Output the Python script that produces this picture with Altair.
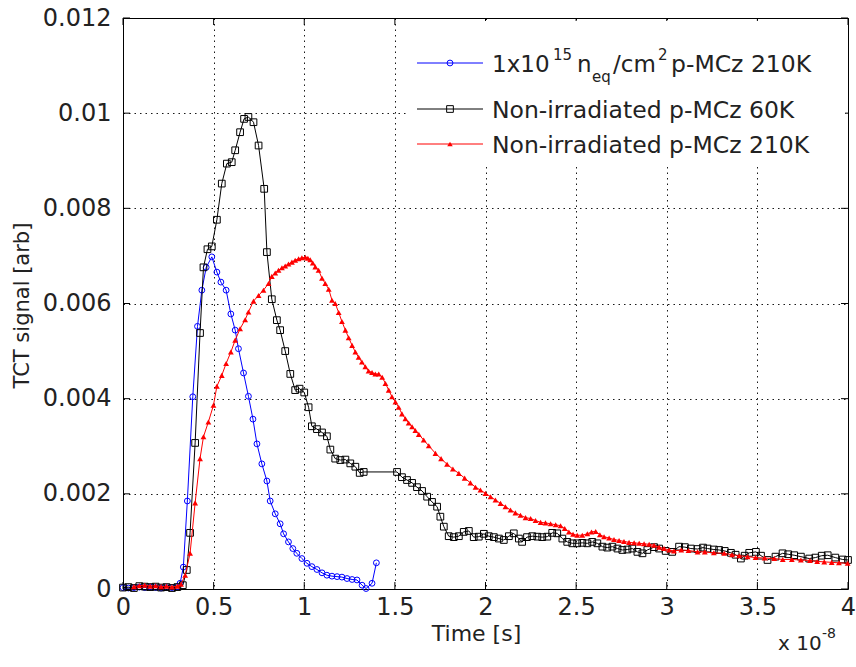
import altair as alt
import pandas as pd

# ---------------- data (time in units of 1e-8 s, signal in arb) ----------------
blue_t = [0.00, 0.03, 0.06, 0.09, 0.12, 0.15, 0.18, 0.21, 0.24, 0.27, 0.30, 0.315,
          0.333, 0.355, 0.385, 0.411, 0.435, 0.459, 0.49, 0.518, 0.54, 0.569, 0.595,
          0.619, 0.637, 0.665, 0.692, 0.717, 0.739, 0.766, 0.794, 0.812, 0.840, 0.867,
          0.886, 0.913, 0.937, 0.959, 0.987, 1.015, 1.042, 1.070, 1.098, 1.125, 1.153,
          1.181, 1.208, 1.236, 1.264, 1.291, 1.319, 1.341, 1.374, 1.398]
blue_v = [0.00003, 0.00002, 0.00003, 0.00004, 0.00003, 0.00004, 0.00003, 0.00002, 0.00003,
          0.00003, 0.00005, 0.00012, 0.00046, 0.00185, 0.00404, 0.00552, 0.00628, 0.00676,
          0.00698, 0.00666, 0.00645, 0.00628, 0.00578, 0.00544, 0.00505, 0.00454, 0.00405,
          0.00357, 0.00305, 0.00263, 0.00227, 0.00185, 0.00158, 0.00137, 0.00116, 0.00099,
          0.00085, 0.00075, 0.00064, 0.00054, 0.00047, 0.00041, 0.00034, 0.00029, 0.00027,
          0.00026, 0.00025, 0.00022, 0.00020, 0.00019, 0.00008, 0.00001, 0.00012, 0.00055]

black_t = [0.00, 0.03, 0.06, 0.09, 0.12, 0.15, 0.18, 0.21, 0.24, 0.27, 0.30, 0.33, 0.352,
           0.370, 0.398, 0.425, 0.444, 0.466, 0.49, 0.518, 0.545, 0.573, 0.600, 0.619,
           0.646, 0.668, 0.692, 0.720, 0.748, 0.779, 0.794, 0.821, 0.849, 0.867, 0.895,
           0.923, 0.950, 0.974, 1.000, 1.024, 1.042, 1.070, 1.098, 1.125, 1.144, 1.171,
           1.199, 1.227, 1.254, 1.282, 1.306, 1.328, 1.512, 1.539, 1.567, 1.595, 1.622,
           1.650, 1.678, 1.705, 1.733, 1.751, 1.770, 1.797, 1.825, 1.853, 1.880, 1.908,
           1.935, 1.963, 1.991, 2.018, 2.046, 2.074, 2.101, 2.129, 2.156, 2.184, 2.202,
           2.229, 2.258, 2.286, 2.313, 2.341, 2.368, 2.396, 2.424, 2.451, 2.479, 2.506,
           2.534, 2.562, 2.589, 2.617, 2.645, 2.672, 2.700, 2.728, 2.755, 2.783, 2.810,
           2.838, 2.866, 2.893, 2.930, 2.958, 2.994, 3.030, 3.068, 3.100, 3.133, 3.170,
           3.200, 3.225, 3.260, 3.289, 3.320, 3.354, 3.380, 3.409, 3.430, 3.455, 3.492,
           3.520, 3.556, 3.600, 3.639, 3.670, 3.703, 3.740, 3.786, 3.820, 3.855, 3.888,
           3.930, 3.971, 4.000]
black_v = [0.00003, 0.00004, 0.00002, 0.00006, 0.00005, 0.00004, 0.00005, 0.00003, 0.00004,
           0.00002, 0.00004, 0.00008, 0.00040, 0.00118, 0.00307, 0.00538, 0.00676, 0.00714,
           0.00720, 0.00776, 0.00852, 0.00894, 0.00897, 0.00922, 0.00960, 0.00988, 0.00992,
           0.00981, 0.00932, 0.00841, 0.00708, 0.00609, 0.00565, 0.00544, 0.00500, 0.00452,
           0.00418, 0.00421, 0.00413, 0.00382, 0.00342, 0.00336, 0.00329, 0.00321, 0.00293,
           0.00274, 0.00271, 0.00272, 0.00264, 0.00257, 0.00244, 0.00246, 0.00246, 0.00235,
           0.00229, 0.00223, 0.00214, 0.00206, 0.00194, 0.00183, 0.00173, 0.00152, 0.00131,
           0.00111, 0.00109, 0.00111, 0.00120, 0.00122, 0.00109, 0.00110, 0.00116, 0.00111,
           0.00109, 0.00106, 0.00103, 0.00111, 0.00117, 0.00106, 0.00099, 0.00109, 0.00111,
           0.00110, 0.00109, 0.00110, 0.00118, 0.00117, 0.00106, 0.00099, 0.00096, 0.00096,
           0.00097, 0.00096, 0.00099, 0.00096, 0.00089, 0.00087, 0.00089, 0.00085, 0.00082,
           0.00083, 0.00085, 0.00078, 0.00075, 0.00082, 0.00088, 0.00085, 0.00080, 0.00078,
           0.00089, 0.00088, 0.00085, 0.00084, 0.00087, 0.00085, 0.00083, 0.00082, 0.00080,
           0.00076, 0.00072, 0.00064, 0.00070, 0.00076, 0.00078, 0.00070, 0.00061, 0.00068,
           0.00075, 0.00073, 0.00071, 0.00068, 0.00064, 0.00066, 0.00070, 0.00071, 0.00066,
           0.00062, 0.00061]

red_t = [0.06, 0.09, 0.12, 0.15, 0.18, 0.21, 0.24, 0.27, 0.30, 0.32, 0.343, 0.370, 0.398,
         0.425, 0.444, 0.471, 0.499, 0.518, 0.545, 0.569, 0.595, 0.619, 0.646, 0.674, 0.692,
         0.720, 0.748, 0.775, 0.803, 0.821, 0.840, 0.858, 0.877, 0.895, 0.913, 0.932, 0.950,
         0.969, 0.987, 1.006, 1.020, 1.033, 1.047, 1.061, 1.079, 1.098, 1.116, 1.135, 1.153,
         1.171, 1.190, 1.208, 1.227, 1.245, 1.264, 1.282, 1.300, 1.318, 1.337, 1.355, 1.374,
         1.392, 1.411, 1.430, 1.448, 1.466, 1.484, 1.503, 1.521, 1.539, 1.558, 1.576, 1.595,
         1.613, 1.632, 1.659, 1.687, 1.724, 1.755, 1.788, 1.820, 1.853, 1.885, 1.917, 1.945,
         1.972, 2.000, 2.028, 2.055, 2.083, 2.110, 2.138, 2.165, 2.193, 2.221, 2.249, 2.276,
         2.304, 2.331, 2.359, 2.387, 2.414, 2.437, 2.460, 2.483, 2.506, 2.534, 2.562, 2.585,
         2.608, 2.631, 2.654, 2.682, 2.709, 2.737, 2.764, 2.792, 2.820, 2.848, 2.875, 2.903,
         2.930, 2.958, 2.985, 3.013, 3.040, 3.080, 3.120, 3.170, 3.210, 3.260, 3.317, 3.360,
         3.400, 3.446, 3.490, 3.540, 3.593, 3.640, 3.690, 3.740, 3.790, 3.830, 3.869, 3.910,
         3.950, 3.998]
red_v = [0.00005, 0.00007, 0.00008, 0.00006, 0.00007, 0.00005, 0.00006, 0.00004, 0.00006,
         0.00010, 0.00029, 0.00075, 0.00181, 0.00274, 0.00320, 0.00351, 0.00386, 0.00426,
         0.00449, 0.00474, 0.00498, 0.00523, 0.00547, 0.00566, 0.00582, 0.00605, 0.00617,
         0.00628, 0.00642, 0.00657, 0.00664, 0.00670, 0.00675, 0.00679, 0.00683, 0.00687,
         0.00691, 0.00694, 0.00696, 0.00697, 0.00695, 0.00692, 0.00685, 0.00677, 0.00670,
         0.00653, 0.00642, 0.00630, 0.00607, 0.00600, 0.00581, 0.00562, 0.00544, 0.00528,
         0.00512, 0.00498, 0.00487, 0.00477, 0.00467, 0.00458, 0.00455, 0.00452, 0.00452,
         0.00445, 0.00432, 0.00418, 0.00404, 0.00393, 0.00382, 0.00368, 0.00358, 0.00349,
         0.00341, 0.00333, 0.00325, 0.00313, 0.00301, 0.00285, 0.00274, 0.00262, 0.00252,
         0.00243, 0.00233, 0.00223, 0.00214, 0.00208, 0.00201, 0.00194, 0.00187, 0.00180,
         0.00173, 0.00166, 0.00160, 0.00155, 0.00150, 0.00148, 0.00144, 0.00140, 0.00139,
         0.00137, 0.00135, 0.00133, 0.00127, 0.00120, 0.00115, 0.00113, 0.00113, 0.00116,
         0.00120, 0.00121, 0.00114, 0.00110, 0.00107, 0.00104, 0.00102, 0.00100, 0.00098,
         0.00097, 0.00096, 0.00095, 0.00094, 0.00092, 0.00088, 0.00085, 0.00082, 0.00080,
         0.00082, 0.00081, 0.00078, 0.00078, 0.00076, 0.00075, 0.00072, 0.00070, 0.00068,
         0.00066, 0.00065, 0.00064, 0.00062, 0.00062, 0.00061, 0.00060, 0.00058, 0.00057,
         0.00056, 0.00055, 0.00054]

x_ticks = [0, 0.5, 1, 1.5, 2, 2.5, 3, 3.5, 4]
y_ticks = [0, 0.002, 0.004, 0.006, 0.008, 0.010, 0.012]

# ---------------- layout ----------------
W, H = 725, 571
FONT = "DejaVu Sans"
TXT = "#222222"
TICK_LEN = 7

xscale = alt.Scale(domain=[0, 4], nice=False, zero=False)
yscale = alt.Scale(domain=[0, 0.012], nice=False)

x_axis = alt.Axis(values=x_ticks, grid=True, gridDash=[1.5, 4], gridColor="#000000",
                  gridOpacity=0.9, gridWidth=1, ticks=False, domain=False,
                  labelFontSize=24, labelFont=FONT, labelColor=TXT,
                  labelPadding=6, labelOverlap=False, labelFlush=False,
                  labelExpr="format(datum.value, '.2~f')",
                  title="Time [s]", titleFont=FONT, titleFontSize=22,
                  titleFontWeight="normal", titleColor=TXT,
                  titleX=353, titleY=44, titleBaseline="middle", titleAlign="center")
y_axis = alt.Axis(values=y_ticks, grid=True, gridDash=[1.5, 4], gridColor="#000000",
                  gridOpacity=0.9, gridWidth=1, ticks=False, domain=False,
                  labelFontSize=24, labelFont=FONT, labelColor=TXT,
                  labelPadding=12, labelOverlap=False, labelFlush=False,
                  labelExpr="format(datum.value, '.3~f')",
                  title="TCT signal [arb]", titleFont=FONT, titleFontSize=21,
                  titleFontWeight="normal", titleColor=TXT,
                  titleX=-101, titleY=287, titleAngle=-90, titleBaseline="middle",
                  titleAlign="center")

XE = alt.X("t:Q", scale=xscale, axis=x_axis)
YE = alt.Y("v:Q", scale=yscale, axis=y_axis)


def series_df(ts, vs):
    return pd.DataFrame({"t": ts, "v": vs})


df_blue = series_df(blue_t, blue_v)
df_black = series_df(black_t, black_v)
df_red = series_df(red_t, red_v)


def series_layers(df, color, shape, size, filled=False):
    line = alt.Chart(df).mark_line(color=color, strokeWidth=1).encode(x=XE, y=YE)
    pts = alt.Chart(df).mark_point(shape=shape, size=size, color=color, filled=filled,
                                   strokeWidth=1, opacity=1).encode(x=XE, y=YE)
    return [line, pts]


BLUE, BLACK, RED = "#0000ff", "#000000", "#ff0000"

blue_layers = series_layers(df_blue, BLUE, "circle", 34)
black_layers = series_layers(df_black, BLACK, "square", 45)
red_layers = series_layers(df_red, RED, "triangle-up", 34, filled=True)

# inward ticks on all four sides
df_xt = pd.DataFrame({"t": x_ticks})
df_yt = pd.DataFrame({"v": y_ticks})
tick_layers = [
    alt.Chart(df_xt).mark_rule(color="black", strokeWidth=1).encode(
        x=XE, y=alt.value(H), y2=alt.value(H - TICK_LEN)),
    alt.Chart(df_xt).mark_rule(color="black", strokeWidth=1).encode(
        x=XE, y=alt.value(0), y2=alt.value(TICK_LEN)),
    alt.Chart(df_yt).mark_rule(color="black", strokeWidth=1).encode(
        y=YE, x=alt.value(0), x2=alt.value(TICK_LEN)),
    alt.Chart(df_yt).mark_rule(color="black", strokeWidth=1).encode(
        y=YE, x=alt.value(W), x2=alt.value(W - TICK_LEN)),
]

# ---------------- legend (drawn manually) ----------------
one = pd.DataFrame({"k": [0]})
LEG_FS = 23
leg_layers = [
    alt.Chart(one).mark_rect(color="white").encode(
        x=alt.value(283), x2=alt.value(722), y=alt.value(3), y2=alt.value(147)),
]
rows = [
    (BLUE, "circle", 34, 45, False),
    (BLACK, "square", 45, 91, False),
    (RED, "triangle-up", 30, 126, True),
]
for col, shp, sz, yy, fl in rows:
    leg_layers.append(alt.Chart(one).mark_rule(color=col, strokeWidth=1).encode(
        x=alt.value(294), x2=alt.value(360), y=alt.value(yy)))
    leg_layers.append(alt.Chart(one).mark_point(shape=shp, size=sz, color=col, filled=fl,
                                                strokeWidth=1, opacity=1).encode(
        x=alt.value(327), y=alt.value(yy)))


def txt(s, x, y, fs=LEG_FS, baseline="alphabetic", align="left"):
    return alt.Chart(one).mark_text(text=s, font=FONT, fontSize=fs, color=TXT,
                                    align=align, baseline=baseline).encode(
        x=alt.value(x), y=alt.value(y))


# row 1 with super/subscripts: 1x10^15 n_eq/cm^2 p-MCz 210K
leg_layers += [
    txt("1x10", 369, 54),
    txt("15", 430, 42, fs=15),
    txt("n", 454, 54),
    txt("eq", 469, 64, fs=15),
    txt("/cm", 490, 54),
    txt("2", 535, 42, fs=15),
    txt("p-MCz 210K", 548, 54, fs=23.5),
    txt("Non-irradiated p-MCz 60K", 369, 100, fs=23.5),
    txt("Non-irradiated p-MCz 210K", 369, 135, fs=23.5),
]

# x 10^-8 multiplier
mult_layers = [
    txt("x 10", 655, 632, fs=20),
    txt("-8", 699, 620, fs=14),
]

chart = alt.layer(
    *tick_layers, *blue_layers, *black_layers, *red_layers,
    *leg_layers, *mult_layers
).properties(
    width=W, height=H,
    padding={"left": 123, "top": 18, "right": 8, "bottom": 78},
    autosize=alt.AutoSizeParams(type="none"),
    background="white",
).configure_view(
    stroke="black", strokeWidth=1
)

chart.save("out.html", embed_options={"renderer": "svg", "actions": False})
